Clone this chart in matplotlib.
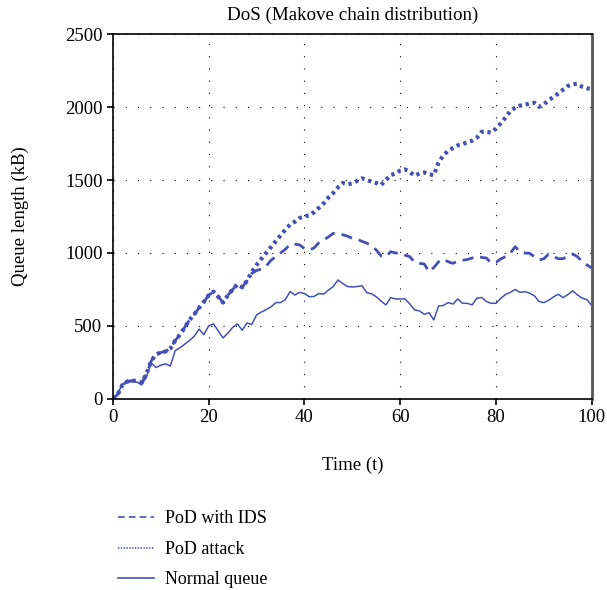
import matplotlib
matplotlib.use("Agg")
import matplotlib.pyplot as plt

plt.rcParams['font.family'] = ['Liberation Serif', 'DejaVu Serif']

# tiempo (t) y longitud de cola (kB)
t = list(range(0, 101))

pod_attack = [0, 30, 96, 119, 125, 123, 110, 170, 260, 305,
              318, 325, 345, 400, 440, 490, 541, 580, 625, 665,
              710, 735, 700, 660, 710, 750, 785, 765, 810, 870,
              918, 960, 1000, 1040, 1080, 1120, 1160, 1195, 1215, 1240,
              1252, 1258, 1280, 1310, 1340, 1380, 1411, 1450, 1480, 1470,
              1478, 1495, 1512, 1500, 1490, 1480, 1466, 1500, 1534, 1545,
              1565, 1573, 1555, 1530, 1545, 1552, 1540, 1534, 1620, 1670,
              1700, 1720, 1738, 1745, 1760, 1770, 1790, 1831, 1830, 1826,
              1854, 1890, 1930, 1975, 1995, 2010, 2016, 2025, 2030, 2002,
              2020, 2048, 2070, 2094, 2120, 2145, 2157, 2160, 2140, 2130,
              2121]

pod_ids = [0, 30, 96, 119, 125, 123, 110, 170, 260, 305,
           318, 325, 345, 400, 440, 490, 541, 580, 625, 665,
           710, 735, 700, 660, 710, 750, 785, 765, 810, 860,
           880, 890, 910, 950, 975, 1000, 1025, 1060, 1060, 1055,
           1030, 1020, 1035, 1070, 1090, 1110, 1135, 1130, 1125, 1115,
           1100, 1095, 1080, 1068, 1050, 1020, 980, 975, 1009, 1000,
           1000, 985, 975, 935, 929, 925, 872, 900, 940, 958,
           940, 929, 945, 950, 955, 966, 975, 970, 965, 931,
           935, 960, 975, 1000, 1043, 1009, 1000, 998, 975, 952,
           961, 993, 975, 961, 961, 980, 993, 975, 940, 918,
           897]

normal = [0, 40, 100, 115, 118, 115, 96, 150, 246, 215,
          230, 240, 225, 330, 350, 375, 400, 430, 478, 440,
          500, 514, 465, 418, 450, 490, 514, 470, 520, 510,
          575, 595, 612, 630, 660, 660, 680, 735, 712, 730,
          722, 700, 702, 722, 718, 745, 770, 815, 790, 770,
          767, 770, 776, 728, 720, 700, 670, 644, 694, 685,
          685, 685, 650, 610, 603, 580, 590, 541, 637, 640,
          660, 650, 685, 655, 655, 644, 690, 695, 667, 655,
          655, 690, 716, 730, 750, 730, 735, 725, 707, 667,
          660, 676, 699, 717, 694, 715, 740, 713, 690, 680,
          638]

color = '#4650b4'

fig = plt.figure(figsize=(6.07, 5.90), dpi=100)
ax = fig.add_axes([0.186, 0.324, 0.789, 0.618])

ax.plot(t, pod_ids, color=color, linestyle=(0, (4, 2.5)), linewidth=2.0, label='PoD with IDS')
ax.plot(t, pod_attack, color=color, linestyle=(0, (0.8, 0.9)), linewidth=3.0, label='PoD attack')
ax.plot(t, normal, color=color, linestyle='-', linewidth=1.1, label='Normal queue')

ax.set_xlim(0, 100)
ax.set_ylim(0, 2500)
ax.set_xticks([0, 20, 40, 60, 80, 100])
ax.set_yticks([0, 500, 1000, 1500, 2000, 2500])
ax.grid(True, color='black', linestyle=(0, (1, 10)), linewidth=0.8)
ax.tick_params(labelsize=13.5, direction='out', length=4, width=1.2, colors='black')

for s in ['left', 'bottom', 'top']:
    ax.spines[s].set_linewidth(1.2)
ax.spines['right'].set_color('#555555')
ax.spines['right'].set_linewidth(2.0)

ax.set_title('DoS (Makove chain distribution)', fontsize=13.7, pad=10)
ax.set_xlabel('Time (t)', fontsize=13.5, labelpad=22)
ax.set_ylabel('Queue length (kB)', fontsize=13.5, labelpad=26)

leg_lines = ax.get_lines()
leg = fig.legend(leg_lines, [l.get_label() for l in leg_lines], loc='lower left',
                 bbox_to_anchor=(0.168, -0.025), frameon=False, fontsize=13,
                 handlelength=2.0, handletextpad=0.6, labelspacing=0.75)
for h in leg.get_lines():
    h.set_linewidth(1.2)

fig.savefig('out.png', dpi=100)
